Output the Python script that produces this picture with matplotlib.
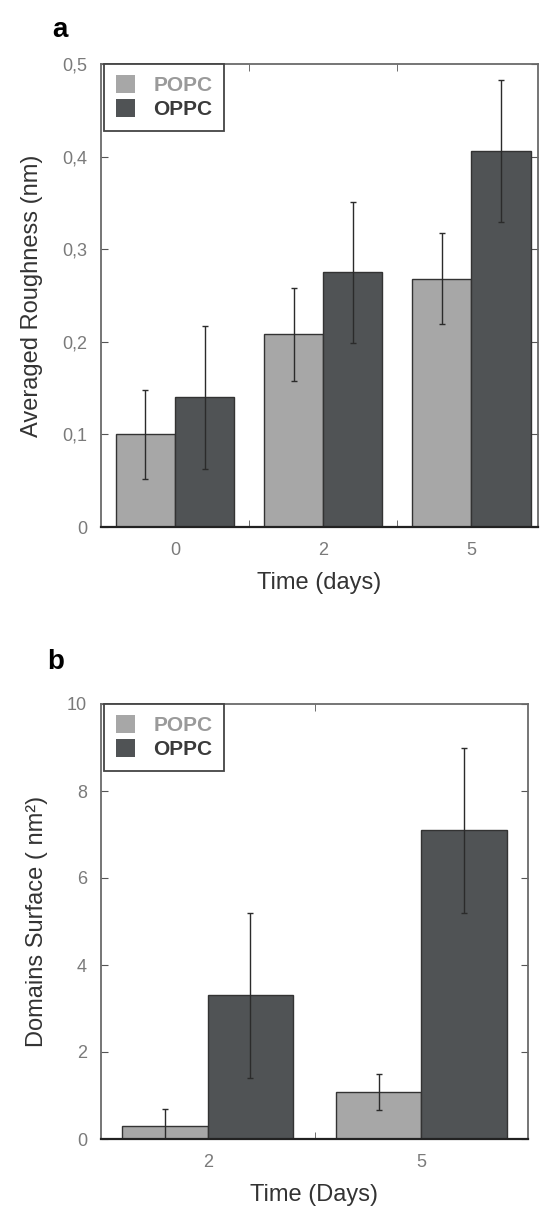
import matplotlib
matplotlib.use("Agg")
import matplotlib.pyplot as plt
import numpy as np
from matplotlib.ticker import FuncFormatter, FixedLocator
from matplotlib.patches import Patch

plt.rcParams["font.family"] = ["Liberation Sans", "DejaVu Sans"]

# panel a: averaged roughness
days_a = ["0", "2", "5"]
popc_a = [0.10, 0.208, 0.268]
popc_a_err = [0.048, 0.05, 0.049]
oppc_a = [0.14, 0.275, 0.406]
oppc_a_err = [0.077, 0.076, 0.077]

# panel b: domains surface
days_b = ["2", "5"]
popc_b = [0.3, 1.08]
popc_b_err = [0.4, 0.41]
oppc_b = [3.3, 7.1]
oppc_b_err = [1.9, 1.9]

POPC_COLOR = "#a7a7a7"
OPPC_COLOR = "#505355"
EDGE = "#333333"
TICK_COLOR = "#7a7a7a"
LABEL_COLOR = "#333333"

W, H = 540, 1207
fig = plt.figure(figsize=(W / 100, H / 100), dpi=100)


def comma(v, _):
    return f"{v:g}".replace(".", ",")


def draw_panel(ax, cats, popc, popc_err, oppc, oppc_err, ylim, yticks,
               ylabel, xlabel, xlim, ylabelpad):
    x = np.arange(len(cats))
    w = 0.4
    ekw = dict(ecolor="#2b2b2b", elinewidth=1.0, capsize=2.5, capthick=1.0)
    ax.bar(x - w / 2, popc, w, yerr=popc_err, color=POPC_COLOR,
           edgecolor=EDGE, linewidth=1.0, error_kw=ekw, label="POPC", zorder=2)
    ax.bar(x + w / 2, oppc, w, yerr=oppc_err, color=OPPC_COLOR,
           edgecolor=EDGE, linewidth=1.0, error_kw=ekw, label="OPPC", zorder=2)
    ax.set_xlim(*xlim)
    ax.set_ylim(*ylim)

    ax.set_yticks(yticks)
    ax.yaxis.set_major_formatter(FuncFormatter(comma))
    ax.set_xticks(x)
    ax.set_xticklabels(cats)
    ax.xaxis.set_minor_locator(FixedLocator(x[:-1] + 0.5))
    ax.tick_params(axis="x", which="major", length=0, pad=11,
                   labelsize=13, labelcolor=TICK_COLOR)
    ax.tick_params(axis="x", which="minor", length=5, direction="in",
                   top=True, bottom=True, color="#555555")
    ax.tick_params(axis="y", which="major", length=5, direction="in",
                   left=True, right=True, labelsize=13, labelcolor=TICK_COLOR,
                   pad=10, color="#555555")

    for side in ["top", "right", "left"]:
        ax.spines[side].set_color("#6a6a6a")
        ax.spines[side].set_linewidth(1.3)
    ax.spines["bottom"].set_color("#222222")
    ax.spines["bottom"].set_linewidth(1.6)

    ax.set_ylabel(ylabel, fontsize=17, color=LABEL_COLOR, labelpad=ylabelpad)
    ax.set_xlabel(xlabel, fontsize=17, color=LABEL_COLOR, labelpad=9)

    handles = [Patch(facecolor=POPC_COLOR, edgecolor="none"),
               Patch(facecolor=OPPC_COLOR, edgecolor="none")]
    leg = ax.legend(handles, ["POPC", "OPPC"], loc="upper left",
                    bbox_to_anchor=(0.008, 1.0), fancybox=False, framealpha=1,
                    edgecolor="#444444", fontsize=15, handlelength=0.9,
                    handleheight=0.9, handletextpad=0.9, borderpad=0.55,
                    labelspacing=0.2, borderaxespad=0.0)
    leg.get_frame().set_linewidth(1.3)
    txts = leg.get_texts()
    txts[0].set_color("#9a9a9a")
    txts[0].set_fontweight("bold")
    txts[1].set_color("#3a3a3a")
    txts[1].set_fontweight("bold")


ax_a = fig.add_axes([101 / W, 1 - 527 / H, (538 - 101) / W, (527 - 64) / H])
draw_panel(ax_a, days_a, popc_a, popc_a_err, oppc_a, oppc_a_err,
           (0, 0.5), [0, 0.1, 0.2, 0.3, 0.4, 0.5],
           "Averaged Roughness (nm)", "Time (days)", (-0.5, 2.45), 14)

ax_b = fig.add_axes([101 / W, 1 - 1139 / H, (528 - 101) / W, (1139 - 704) / H])
draw_panel(ax_b, days_b, popc_b, popc_b_err, oppc_b, oppc_b_err,
           (0, 10), [0, 2, 4, 6, 8, 10],
           "Domains Surface ( nm²)", "Time (Days)", (-0.5, 1.5), 14)

fig.text(60 / W, 1 - 30 / H, "a", fontsize=20, fontweight="bold",
         ha="center", va="center")
fig.text(56 / W, 1 - 662 / H, "b", fontsize=20, fontweight="bold",
         ha="center", va="center")

fig.savefig("out.png", dpi=100, facecolor="white")
